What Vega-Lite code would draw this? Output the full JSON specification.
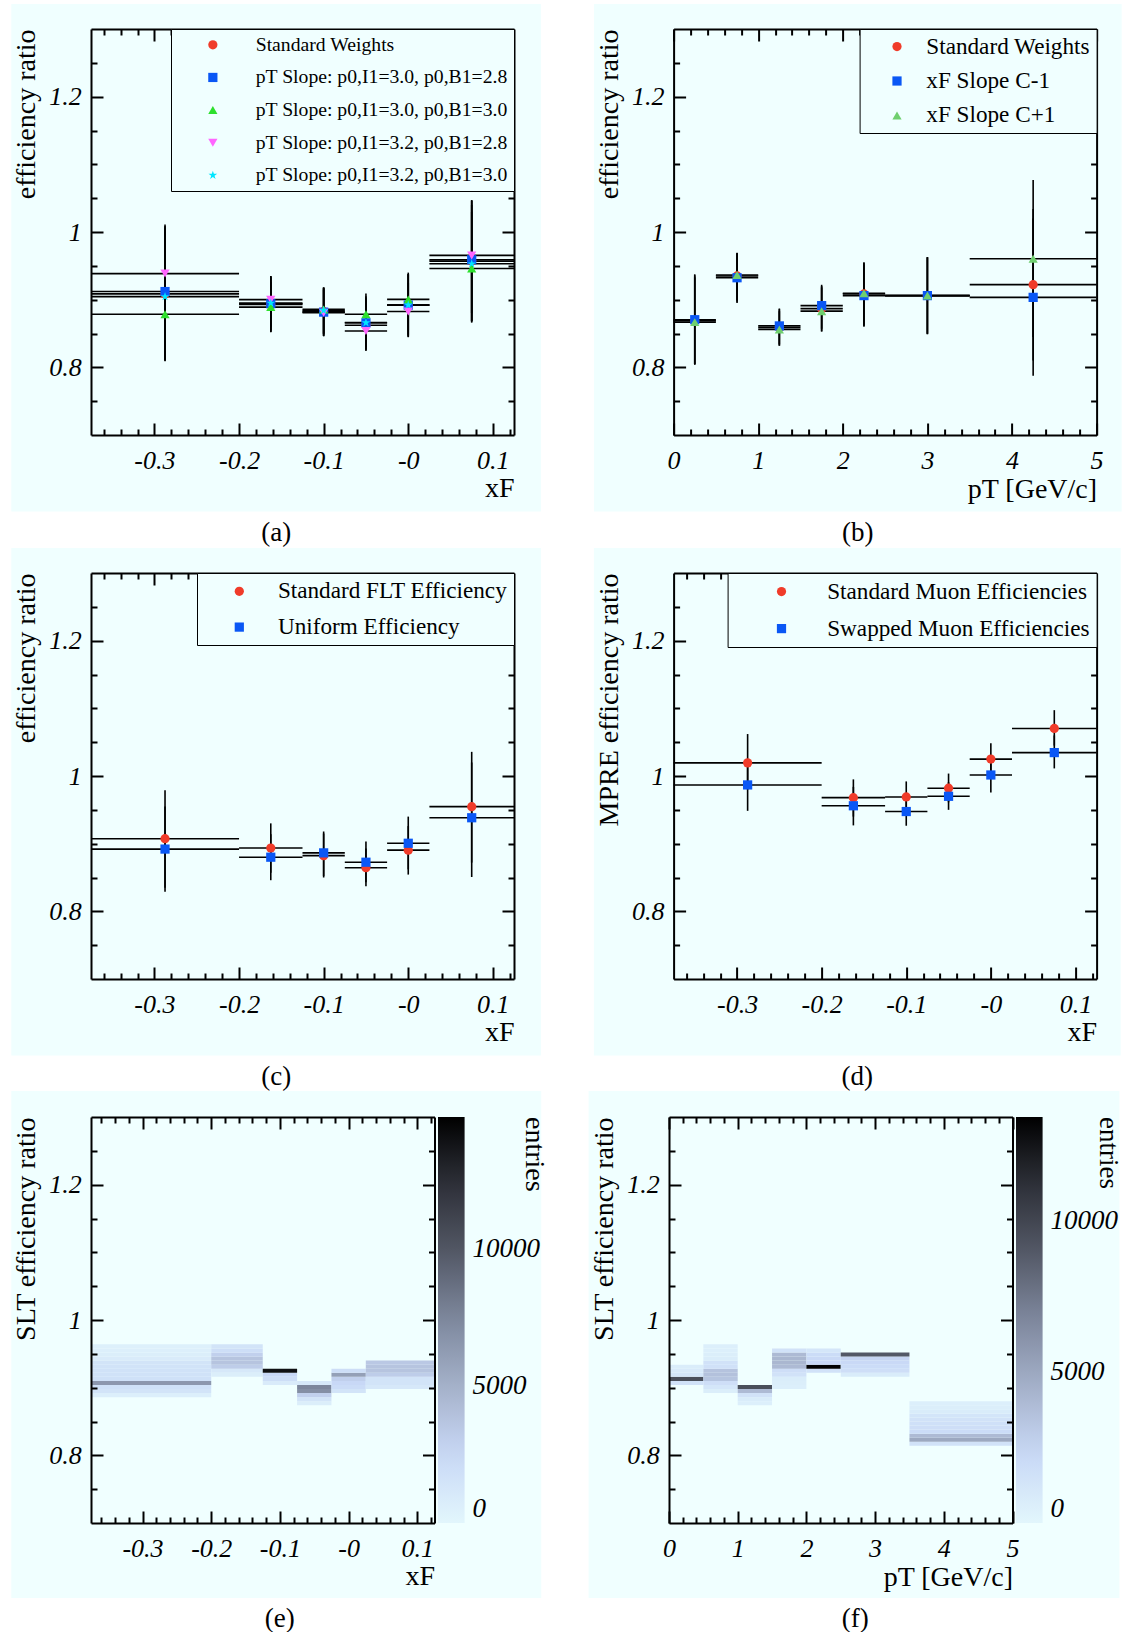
{
"$schema": "https://vega.github.io/schema/vega-lite/v6.json",
"background": "white",
"padding": {"left": 11, "top": 3, "right": 0, "bottom": 0},
"config": {
  "view": {"stroke": null},
  "font": "Liberation Serif",
  "axis": {"zindex": 1, "grid": false, "domainColor": "black", "domainWidth": 2, "tickColor": "black", "tickWidth": 2,
    "labelFont": "Liberation Serif", "labelFontStyle": "italic", "labelFontSize": 26, "labelColor": "black",
    "titleFont": "Liberation Serif", "titleFontWeight": "normal", "titleFontSize": 28, "titleColor": "black",
    "labelFlush": false, "labelOverlap": false},
  "legend": {"labelFont": "Liberation Serif", "labelColor": "black", "titleFont": "Liberation Serif", "titleColor": "black", "titleFontWeight": "normal"},
  "title": {"font": "Liberation Serif", "fontSize": 27, "fontWeight": "normal", "color": "black"}
},
"datasets": {
  "bg": [{}],
  "pa": [
    {"s": "Standard Weights", "x": -0.2875, "x0": -0.375, "x1": -0.2, "v": 0.9085, "lo": 0.809, "hi": 1.009},
    {"s": "pT Slope: p0,I1=3.0, p0,B1=2.8", "x": -0.2875, "x0": -0.375, "x1": -0.2, "v": 0.912, "lo": 0.812, "hi": 1.011},
    {"s": "pT Slope: p0,I1=3.0, p0,B1=3.0", "x": -0.2875, "x0": -0.375, "x1": -0.2, "v": 0.8785, "lo": 0.81, "hi": 0.947},
    {"s": "pT Slope: p0,I1=3.2, p0,B1=2.8", "x": -0.2875, "x0": -0.375, "x1": -0.2, "v": 0.9385, "lo": 0.87, "hi": 1.007},
    {"s": "pT Slope: p0,I1=3.2, p0,B1=3.0", "x": -0.2875, "x0": -0.375, "x1": -0.2, "v": 0.9045, "lo": 0.81, "hi": 1.0},
    {"s": "Standard Weights", "x": -0.1625, "x0": -0.2, "x1": -0.125, "v": 0.893, "lo": 0.852, "hi": 0.934},
    {"s": "pT Slope: p0,I1=3.0, p0,B1=2.8", "x": -0.1625, "x0": -0.2, "x1": -0.125, "v": 0.894, "lo": 0.853, "hi": 0.935},
    {"s": "pT Slope: p0,I1=3.0, p0,B1=3.0", "x": -0.1625, "x0": -0.2, "x1": -0.125, "v": 0.889, "lo": 0.852, "hi": 0.926},
    {"s": "pT Slope: p0,I1=3.2, p0,B1=2.8", "x": -0.1625, "x0": -0.2, "x1": -0.125, "v": 0.9, "lo": 0.86, "hi": 0.935},
    {"s": "pT Slope: p0,I1=3.2, p0,B1=3.0", "x": -0.1625, "x0": -0.2, "x1": -0.125, "v": 0.895, "lo": 0.855, "hi": 0.933},
    {"s": "Standard Weights", "x": -0.1, "x0": -0.125, "x1": -0.075, "v": 0.8826, "lo": 0.847, "hi": 0.918},
    {"s": "pT Slope: p0,I1=3.0, p0,B1=2.8", "x": -0.1, "x0": -0.125, "x1": -0.075, "v": 0.8816, "lo": 0.846, "hi": 0.917},
    {"s": "pT Slope: p0,I1=3.0, p0,B1=3.0", "x": -0.1, "x0": -0.125, "x1": -0.075, "v": 0.8856, "lo": 0.85, "hi": 0.918},
    {"s": "pT Slope: p0,I1=3.2, p0,B1=2.8", "x": -0.1, "x0": -0.125, "x1": -0.075, "v": 0.8806, "lo": 0.846, "hi": 0.915},
    {"s": "pT Slope: p0,I1=3.2, p0,B1=3.0", "x": -0.1, "x0": -0.125, "x1": -0.075, "v": 0.8841, "lo": 0.849, "hi": 0.918},
    {"s": "Standard Weights", "x": -0.05, "x0": -0.075, "x1": -0.025, "v": 0.8623, "lo": 0.826, "hi": 0.899},
    {"s": "pT Slope: p0,I1=3.0, p0,B1=2.8", "x": -0.05, "x0": -0.075, "x1": -0.025, "v": 0.8658, "lo": 0.826, "hi": 0.905},
    {"s": "pT Slope: p0,I1=3.0, p0,B1=3.0", "x": -0.05, "x0": -0.075, "x1": -0.025, "v": 0.8785, "lo": 0.84, "hi": 0.909},
    {"s": "pT Slope: p0,I1=3.2, p0,B1=2.8", "x": -0.05, "x0": -0.075, "x1": -0.025, "v": 0.8536, "lo": 0.824, "hi": 0.89},
    {"s": "pT Slope: p0,I1=3.2, p0,B1=3.0", "x": -0.05, "x0": -0.075, "x1": -0.025, "v": 0.866, "lo": 0.83, "hi": 0.903},
    {"s": "Standard Weights", "x": 0, "x0": -0.025, "x1": 0.025, "v": 0.8922, "lo": 0.846, "hi": 0.938},
    {"s": "pT Slope: p0,I1=3.0, p0,B1=2.8", "x": 0, "x0": -0.025, "x1": 0.025, "v": 0.892, "lo": 0.845, "hi": 0.938},
    {"s": "pT Slope: p0,I1=3.0, p0,B1=3.0", "x": 0, "x0": -0.025, "x1": 0.025, "v": 0.9004, "lo": 0.855, "hi": 0.94},
    {"s": "pT Slope: p0,I1=3.2, p0,B1=2.8", "x": 0, "x0": -0.025, "x1": 0.025, "v": 0.8826, "lo": 0.8445, "hi": 0.925},
    {"s": "pT Slope: p0,I1=3.2, p0,B1=3.0", "x": 0, "x0": -0.025, "x1": 0.025, "v": 0.8922, "lo": 0.848, "hi": 0.937},
    {"s": "Standard Weights", "x": 0.075, "x0": 0.025, "x1": 0.125, "v": 0.957, "lo": 0.868, "hi": 1.046},
    {"s": "pT Slope: p0,I1=3.0, p0,B1=2.8", "x": 0.075, "x0": 0.025, "x1": 0.125, "v": 0.959, "lo": 0.868, "hi": 1.047},
    {"s": "pT Slope: p0,I1=3.0, p0,B1=3.0", "x": 0.075, "x0": 0.025, "x1": 0.125, "v": 0.946, "lo": 0.866, "hi": 1.03},
    {"s": "pT Slope: p0,I1=3.2, p0,B1=2.8", "x": 0.075, "x0": 0.025, "x1": 0.125, "v": 0.9654, "lo": 0.88, "hi": 1.047},
    {"s": "pT Slope: p0,I1=3.2, p0,B1=3.0", "x": 0.075, "x0": 0.025, "x1": 0.125, "v": 0.953, "lo": 0.868, "hi": 1.04}
  ],
  "pb": [
    {"s": "Standard Weights", "x": 0.25, "x0": 0, "x1": 0.5, "v": 0.869, "lo": 0.804, "hi": 0.936},
    {"s": "xF Slope C-1", "x": 0.25, "x0": 0, "x1": 0.5, "v": 0.8704, "lo": 0.805, "hi": 0.9375},
    {"s": "xF Slope C+1", "x": 0.25, "x0": 0, "x1": 0.5, "v": 0.8668, "lo": 0.804, "hi": 0.933},
    {"s": "Standard Weights", "x": 0.75, "x0": 0.5, "x1": 1, "v": 0.935, "lo": 0.897, "hi": 0.969},
    {"s": "xF Slope C-1", "x": 0.75, "x0": 0.5, "x1": 1, "v": 0.9324, "lo": 0.895, "hi": 0.968},
    {"s": "xF Slope C+1", "x": 0.75, "x0": 0.5, "x1": 1, "v": 0.9365, "lo": 0.899, "hi": 0.9695},
    {"s": "Standard Weights", "x": 1.25, "x0": 1, "x1": 1.5, "v": 0.8587, "lo": 0.832, "hi": 0.886},
    {"s": "xF Slope C-1", "x": 1.25, "x0": 1, "x1": 1.5, "v": 0.8612, "lo": 0.834, "hi": 0.887},
    {"s": "xF Slope C+1", "x": 1.25, "x0": 1, "x1": 1.5, "v": 0.856, "lo": 0.832, "hi": 0.883},
    {"s": "Standard Weights", "x": 1.75, "x0": 1.5, "x1": 2, "v": 0.8867, "lo": 0.853, "hi": 0.92},
    {"s": "xF Slope C-1", "x": 1.75, "x0": 1.5, "x1": 2, "v": 0.8912, "lo": 0.857, "hi": 0.922},
    {"s": "xF Slope C+1", "x": 1.75, "x0": 1.5, "x1": 2, "v": 0.883, "lo": 0.853, "hi": 0.918},
    {"s": "Standard Weights", "x": 2.25, "x0": 2, "x1": 2.5, "v": 0.9085, "lo": 0.861, "hi": 0.955},
    {"s": "xF Slope C-1", "x": 2.25, "x0": 2, "x1": 2.5, "v": 0.906, "lo": 0.86, "hi": 0.952},
    {"s": "xF Slope C+1", "x": 2.25, "x0": 2, "x1": 2.5, "v": 0.9095, "lo": 0.863, "hi": 0.955},
    {"s": "Standard Weights", "x": 3, "x0": 2.5, "x1": 3.5, "v": 0.906, "lo": 0.849, "hi": 0.963},
    {"s": "xF Slope C-1", "x": 3, "x0": 2.5, "x1": 3.5, "v": 0.906, "lo": 0.849, "hi": 0.963},
    {"s": "xF Slope C+1", "x": 3, "x0": 2.5, "x1": 3.5, "v": 0.906, "lo": 0.85, "hi": 0.962},
    {"s": "Standard Weights", "x": 4.25, "x0": 3.5, "x1": 5, "v": 0.9222, "lo": 0.81, "hi": 1.034},
    {"s": "xF Slope C-1", "x": 4.25, "x0": 3.5, "x1": 5, "v": 0.9034, "lo": 0.7875, "hi": 1.02},
    {"s": "xF Slope C+1", "x": 4.25, "x0": 3.5, "x1": 5, "v": 0.9604, "lo": 0.845, "hi": 1.077}
  ],
  "pc": [
    {"s": "Standard FLT Efficiency", "x": -0.2875, "x0": -0.375, "x1": -0.2, "v": 0.9073, "lo": 0.835, "hi": 0.979},
    {"s": "Uniform Efficiency", "x": -0.2875, "x0": -0.375, "x1": -0.2, "v": 0.892, "lo": 0.829, "hi": 0.955},
    {"s": "Standard FLT Efficiency", "x": -0.1625, "x0": -0.2, "x1": -0.125, "v": 0.8935, "lo": 0.857, "hi": 0.93},
    {"s": "Uniform Efficiency", "x": -0.1625, "x0": -0.2, "x1": -0.125, "v": 0.88, "lo": 0.846, "hi": 0.914},
    {"s": "Standard FLT Efficiency", "x": -0.1, "x0": -0.125, "x1": -0.075, "v": 0.8823, "lo": 0.85, "hi": 0.915},
    {"s": "Uniform Efficiency", "x": -0.1, "x0": -0.125, "x1": -0.075, "v": 0.8864, "lo": 0.852, "hi": 0.918},
    {"s": "Standard FLT Efficiency", "x": -0.05, "x0": -0.075, "x1": -0.025, "v": 0.8645, "lo": 0.837, "hi": 0.893},
    {"s": "Uniform Efficiency", "x": -0.05, "x0": -0.075, "x1": -0.025, "v": 0.8726, "lo": 0.843, "hi": 0.9032},
    {"s": "Standard FLT Efficiency", "x": 0, "x0": -0.025, "x1": 0.025, "v": 0.8904, "lo": 0.8543, "hi": 0.926},
    {"s": "Uniform Efficiency", "x": 0, "x0": -0.025, "x1": 0.025, "v": 0.9006, "lo": 0.862, "hi": 0.94},
    {"s": "Standard FLT Efficiency", "x": 0.075, "x0": 0.025, "x1": 0.125, "v": 0.9547, "lo": 0.872, "hi": 1.0357},
    {"s": "Uniform Efficiency", "x": 0.075, "x0": 0.025, "x1": 0.125, "v": 0.9383, "lo": 0.8507, "hi": 1.02}
  ],
  "pd": [
    {"s": "Standard Muon Efficiencies", "x": -0.2875, "x0": -0.375, "x1": -0.2, "v": 1.0194, "lo": 0.98, "hi": 1.062},
    {"s": "Swapped Muon Efficiencies", "x": -0.2875, "x0": -0.375, "x1": -0.2, "v": 0.9868, "lo": 0.9485, "hi": 1.025},
    {"s": "Standard Muon Efficiencies", "x": -0.1625, "x0": -0.2, "x1": -0.125, "v": 0.968, "lo": 0.94, "hi": 0.995},
    {"s": "Swapped Muon Efficiencies", "x": -0.1625, "x0": -0.2, "x1": -0.125, "v": 0.956, "lo": 0.927, "hi": 0.984},
    {"s": "Standard Muon Efficiencies", "x": -0.1, "x0": -0.125, "x1": -0.075, "v": 0.969, "lo": 0.946, "hi": 0.992},
    {"s": "Swapped Muon Efficiencies", "x": -0.1, "x0": -0.125, "x1": -0.075, "v": 0.9475, "lo": 0.9265, "hi": 0.969},
    {"s": "Standard Muon Efficiencies", "x": -0.05, "x0": -0.075, "x1": -0.025, "v": 0.982, "lo": 0.961, "hi": 1.0036},
    {"s": "Swapped Muon Efficiencies", "x": -0.05, "x0": -0.075, "x1": -0.025, "v": 0.97, "lo": 0.95, "hi": 0.991},
    {"s": "Standard Muon Efficiencies", "x": 0, "x0": -0.025, "x1": 0.025, "v": 1.025, "lo": 1.001, "hi": 1.0484},
    {"s": "Swapped Muon Efficiencies", "x": 0, "x0": -0.025, "x1": 0.025, "v": 1.0015, "lo": 0.9755, "hi": 1.025},
    {"s": "Standard Muon Efficiencies", "x": 0.075, "x0": 0.025, "x1": 0.125, "v": 1.0703, "lo": 1.045, "hi": 1.0973},
    {"s": "Swapped Muon Efficiencies", "x": 0.075, "x0": 0.025, "x1": 0.125, "v": 1.0346, "lo": 1.0112, "hi": 1.06}
  ],
  "he": [
    {"x0": -0.375, "x1": -0.2, "y0": 0.886, "y1": 0.892, "n": 600},
    {"x0": -0.375, "x1": -0.2, "y0": 0.892, "y1": 0.898, "n": 1500},
    {"x0": -0.375, "x1": -0.2, "y0": 0.898, "y1": 0.904, "n": 1800},
    {"x0": -0.375, "x1": -0.2, "y0": 0.904, "y1": 0.910, "n": 6500},
    {"x0": -0.375, "x1": -0.2, "y0": 0.910, "y1": 0.916, "n": 1800},
    {"x0": -0.375, "x1": -0.2, "y0": 0.916, "y1": 0.922, "n": 1700},
    {"x0": -0.375, "x1": -0.2, "y0": 0.922, "y1": 0.928, "n": 1700},
    {"x0": -0.375, "x1": -0.2, "y0": 0.928, "y1": 0.934, "n": 1600},
    {"x0": -0.375, "x1": -0.2, "y0": 0.934, "y1": 0.940, "n": 1500},
    {"x0": -0.375, "x1": -0.2, "y0": 0.940, "y1": 0.946, "n": 900},
    {"x0": -0.375, "x1": -0.2, "y0": 0.946, "y1": 0.952, "n": 700},
    {"x0": -0.375, "x1": -0.2, "y0": 0.952, "y1": 0.958, "n": 600},
    {"x0": -0.375, "x1": -0.2, "y0": 0.958, "y1": 0.964, "n": 500},
    {"x0": -0.2, "x1": -0.125, "y0": 0.916, "y1": 0.922, "n": 700},
    {"x0": -0.2, "x1": -0.125, "y0": 0.922, "y1": 0.928, "n": 1200},
    {"x0": -0.2, "x1": -0.125, "y0": 0.928, "y1": 0.934, "n": 3200},
    {"x0": -0.2, "x1": -0.125, "y0": 0.934, "y1": 0.940, "n": 3800},
    {"x0": -0.2, "x1": -0.125, "y0": 0.940, "y1": 0.946, "n": 3800},
    {"x0": -0.2, "x1": -0.125, "y0": 0.946, "y1": 0.952, "n": 3000},
    {"x0": -0.2, "x1": -0.125, "y0": 0.952, "y1": 0.958, "n": 2000},
    {"x0": -0.2, "x1": -0.125, "y0": 0.958, "y1": 0.964, "n": 1500},
    {"x0": -0.125, "x1": -0.075, "y0": 0.904, "y1": 0.910, "n": 900},
    {"x0": -0.125, "x1": -0.075, "y0": 0.910, "y1": 0.916, "n": 2000},
    {"x0": -0.125, "x1": -0.075, "y0": 0.916, "y1": 0.922, "n": 2500},
    {"x0": -0.125, "x1": -0.075, "y0": 0.922, "y1": 0.928, "n": 14000},
    {"x0": -0.075, "x1": -0.025, "y0": 0.874, "y1": 0.880, "n": 700},
    {"x0": -0.075, "x1": -0.025, "y0": 0.880, "y1": 0.886, "n": 1500},
    {"x0": -0.075, "x1": -0.025, "y0": 0.886, "y1": 0.892, "n": 3000},
    {"x0": -0.075, "x1": -0.025, "y0": 0.892, "y1": 0.898, "n": 7000},
    {"x0": -0.075, "x1": -0.025, "y0": 0.898, "y1": 0.904, "n": 7500},
    {"x0": -0.075, "x1": -0.025, "y0": 0.904, "y1": 0.910, "n": 1200},
    {"x0": -0.025, "x1": 0.025, "y0": 0.892, "y1": 0.898, "n": 1500},
    {"x0": -0.025, "x1": 0.025, "y0": 0.898, "y1": 0.904, "n": 2200},
    {"x0": -0.025, "x1": 0.025, "y0": 0.904, "y1": 0.910, "n": 2500},
    {"x0": -0.025, "x1": 0.025, "y0": 0.910, "y1": 0.916, "n": 3000},
    {"x0": -0.025, "x1": 0.025, "y0": 0.916, "y1": 0.922, "n": 6000},
    {"x0": -0.025, "x1": 0.025, "y0": 0.922, "y1": 0.928, "n": 2000},
    {"x0": 0.025, "x1": 0.125, "y0": 0.898, "y1": 0.904, "n": 1200},
    {"x0": 0.025, "x1": 0.125, "y0": 0.904, "y1": 0.910, "n": 1500},
    {"x0": 0.025, "x1": 0.125, "y0": 0.910, "y1": 0.916, "n": 1500},
    {"x0": 0.025, "x1": 0.125, "y0": 0.916, "y1": 0.922, "n": 3200},
    {"x0": 0.025, "x1": 0.125, "y0": 0.922, "y1": 0.928, "n": 3800},
    {"x0": 0.025, "x1": 0.125, "y0": 0.928, "y1": 0.934, "n": 3800},
    {"x0": 0.025, "x1": 0.125, "y0": 0.934, "y1": 0.940, "n": 3500}
  ],
  "hf": [
    {"x0": 0, "x1": 0.5, "y0": 0.904, "y1": 0.910, "n": 1500},
    {"x0": 0, "x1": 0.5, "y0": 0.910, "y1": 0.916, "n": 9500},
    {"x0": 0, "x1": 0.5, "y0": 0.916, "y1": 0.922, "n": 1200},
    {"x0": 0, "x1": 0.5, "y0": 0.922, "y1": 0.928, "n": 900},
    {"x0": 0, "x1": 0.5, "y0": 0.928, "y1": 0.934, "n": 700},
    {"x0": 0.5, "x1": 1, "y0": 0.892, "y1": 0.898, "n": 600},
    {"x0": 0.5, "x1": 1, "y0": 0.898, "y1": 0.904, "n": 1200},
    {"x0": 0.5, "x1": 1, "y0": 0.904, "y1": 0.910, "n": 1800},
    {"x0": 0.5, "x1": 1, "y0": 0.910, "y1": 0.916, "n": 3400},
    {"x0": 0.5, "x1": 1, "y0": 0.916, "y1": 0.922, "n": 3600},
    {"x0": 0.5, "x1": 1, "y0": 0.922, "y1": 0.928, "n": 3500},
    {"x0": 0.5, "x1": 1, "y0": 0.928, "y1": 0.934, "n": 1600},
    {"x0": 0.5, "x1": 1, "y0": 0.934, "y1": 0.940, "n": 1500},
    {"x0": 0.5, "x1": 1, "y0": 0.940, "y1": 0.946, "n": 700},
    {"x0": 0.5, "x1": 1, "y0": 0.946, "y1": 0.952, "n": 600},
    {"x0": 0.5, "x1": 1, "y0": 0.952, "y1": 0.958, "n": 500},
    {"x0": 0.5, "x1": 1, "y0": 0.958, "y1": 0.964, "n": 500},
    {"x0": 1, "x1": 1.5, "y0": 0.874, "y1": 0.880, "n": 500},
    {"x0": 1, "x1": 1.5, "y0": 0.880, "y1": 0.886, "n": 800},
    {"x0": 1, "x1": 1.5, "y0": 0.886, "y1": 0.892, "n": 1500},
    {"x0": 1, "x1": 1.5, "y0": 0.892, "y1": 0.898, "n": 4000},
    {"x0": 1, "x1": 1.5, "y0": 0.898, "y1": 0.904, "n": 9500},
    {"x0": 1.5, "x1": 2, "y0": 0.898, "y1": 0.904, "n": 500},
    {"x0": 1.5, "x1": 2, "y0": 0.904, "y1": 0.910, "n": 600},
    {"x0": 1.5, "x1": 2, "y0": 0.910, "y1": 0.916, "n": 700},
    {"x0": 1.5, "x1": 2, "y0": 0.916, "y1": 0.922, "n": 1500},
    {"x0": 1.5, "x1": 2, "y0": 0.922, "y1": 0.928, "n": 1800},
    {"x0": 1.5, "x1": 2, "y0": 0.928, "y1": 0.934, "n": 4000},
    {"x0": 1.5, "x1": 2, "y0": 0.934, "y1": 0.940, "n": 4200},
    {"x0": 1.5, "x1": 2, "y0": 0.940, "y1": 0.946, "n": 4200},
    {"x0": 1.5, "x1": 2, "y0": 0.946, "y1": 0.952, "n": 4000},
    {"x0": 1.5, "x1": 2, "y0": 0.952, "y1": 0.958, "n": 1500},
    {"x0": 2, "x1": 2.5, "y0": 0.922, "y1": 0.928, "n": 1500},
    {"x0": 2, "x1": 2.5, "y0": 0.928, "y1": 0.934, "n": 13400},
    {"x0": 2, "x1": 2.5, "y0": 0.934, "y1": 0.940, "n": 2200},
    {"x0": 2, "x1": 2.5, "y0": 0.940, "y1": 0.946, "n": 2200},
    {"x0": 2, "x1": 2.5, "y0": 0.946, "y1": 0.952, "n": 2000},
    {"x0": 2, "x1": 2.5, "y0": 0.952, "y1": 0.958, "n": 1200},
    {"x0": 2.5, "x1": 3.5, "y0": 0.916, "y1": 0.922, "n": 800},
    {"x0": 2.5, "x1": 3.5, "y0": 0.922, "y1": 0.928, "n": 1800},
    {"x0": 2.5, "x1": 3.5, "y0": 0.928, "y1": 0.934, "n": 2000},
    {"x0": 2.5, "x1": 3.5, "y0": 0.934, "y1": 0.940, "n": 2200},
    {"x0": 2.5, "x1": 3.5, "y0": 0.940, "y1": 0.946, "n": 2500},
    {"x0": 2.5, "x1": 3.5, "y0": 0.946, "y1": 0.952, "n": 9000},
    {"x0": 3.5, "x1": 5, "y0": 0.814, "y1": 0.820, "n": 1500},
    {"x0": 3.5, "x1": 5, "y0": 0.820, "y1": 0.826, "n": 5000},
    {"x0": 3.5, "x1": 5, "y0": 0.826, "y1": 0.832, "n": 4000},
    {"x0": 3.5, "x1": 5, "y0": 0.832, "y1": 0.838, "n": 2000},
    {"x0": 3.5, "x1": 5, "y0": 0.838, "y1": 0.844, "n": 1800},
    {"x0": 3.5, "x1": 5, "y0": 0.844, "y1": 0.850, "n": 1700},
    {"x0": 3.5, "x1": 5, "y0": 0.850, "y1": 0.856, "n": 1500},
    {"x0": 3.5, "x1": 5, "y0": 0.856, "y1": 0.862, "n": 1300},
    {"x0": 3.5, "x1": 5, "y0": 0.862, "y1": 0.868, "n": 800},
    {"x0": 3.5, "x1": 5, "y0": 0.868, "y1": 0.874, "n": 600},
    {"x0": 3.5, "x1": 5, "y0": 0.874, "y1": 0.880, "n": 500}
  ]
},
"spacing": 1,
"resolve": {"scale": {"color": "independent", "shape": "independent"}, "legend": {"color": "independent", "shape": "independent"}},
"vconcat": [
 {
  "spacing": 52.6,
  "resolve": {"scale": {"color": "independent", "shape": "independent"}, "legend": {"color": "independent", "shape": "independent"}},
  "hconcat": [
   {
    "width": 423, "height": 406,
    "title": {"text": "(a)", "orient": "bottom", "offset": 8, "anchor": "middle", "frame": "bounds"},
    "resolve": {"axis": {"x": "independent", "y": "independent"}},
    "layer": [
     {"data": {"name": "bg"}, "mark": {"type": "rect", "color": "#f0ffff"},
      "encoding": {
       "x": {"datum": -0.4692, "type": "quantitative", "scale": {"domain": [-0.375, 0.125], "nice": false, "zero": false}, "axis": null},
       "x2": {"datum": 0.1569},
       "y": {"datum": 0.5868, "type": "quantitative", "scale": {"domain": [0.7, 1.3], "nice": false, "zero": false}, "axis": null},
       "y2": {"datum": 1.337}}},
     {"data": {"name": "pa"}, "mark": {"type": "rule", "color": "black", "strokeWidth": 1.6},
      "encoding": {
       "x": {"field": "x0", "type": "quantitative", "scale": {"domain": [-0.375, 0.125], "nice": false, "zero": false},
        "axis": {"zindex": 1, "orient": "bottom", "values": [-0.36,-0.34,-0.32,-0.3,-0.28,-0.26,-0.24,-0.22,-0.2,-0.18,-0.16,-0.14,-0.12,-0.1,-0.08,-0.06,-0.04,-0.02,0,0.02,0.04,0.06,0.08,0.1,0.12],
         "tickSize": {"condition": {"test": "abs(datum.value*10-round(datum.value*10))<0.000001", "value": -12}, "value": -6},
         "labelExpr": "abs(datum.value*10-round(datum.value*10))<0.000001 ? (abs(datum.value)<0.01 ? '-0' : (datum.value<0 ? '-'+format(-datum.value,'.1f') : format(datum.value,'.1f'))) : ''",
         "labelPadding": 24, "title": "xF", "titleAnchor": "end", "titlePadding": -5}},
       "x2": {"field": "x1"},
       "y": {"field": "v", "type": "quantitative", "scale": {"domain": [0.7, 1.3], "nice": false, "zero": false},
        "axis": {"zindex": 1, "orient": "left", "values": [0.75,0.8,0.85,0.9,0.95,1,1.05,1.1,1.15,1.2,1.25],
         "tickSize": {"condition": {"test": "abs(datum.value*5-round(datum.value*5))<0.000001", "value": -12}, "value": -6},
         "labelExpr": "abs(datum.value*5-round(datum.value*5))<0.000001 ? format(datum.value,'~g') : ''",
         "labelPadding": 21.7, "title": "efficiency ratio", "titleAnchor": "end", "titlePadding": 8.3}}}},
     {"data": {"name": "pa"}, "mark": {"type": "rule", "color": "black", "strokeWidth": 1.6},
      "encoding": {
       "x": {"field": "x", "type": "quantitative", "scale": {"domain": [-0.375, 0.125], "nice": false, "zero": false},
        "axis": {"zindex": 1, "orient": "top", "values": [-0.36,-0.34,-0.32,-0.3,-0.28,-0.26,-0.24,-0.22,-0.2,-0.18,-0.16,-0.14,-0.12,-0.1,-0.08,-0.06,-0.04,-0.02,0,0.02,0.04,0.06,0.08,0.1,0.12],
         "tickSize": {"condition": {"test": "abs(datum.value*10-round(datum.value*10))<0.000001", "value": -12}, "value": -6},
         "labels": false, "title": null}},
       "y": {"field": "lo", "type": "quantitative", "scale": {"domain": [0.7, 1.3], "nice": false, "zero": false},
        "axis": {"zindex": 1, "orient": "right", "values": [0.75,0.8,0.85,0.9,0.95,1,1.05,1.1,1.15,1.2,1.25],
         "tickSize": {"condition": {"test": "abs(datum.value*5-round(datum.value*5))<0.000001", "value": -12}, "value": -6},
         "labels": false, "title": null}},
       "y2": {"field": "hi"}}},
     {"data": {"name": "pa"}, "mark": {"type": "point", "filled": true, "size": 85, "opacity": 1},
      "encoding": {
       "x": {"field": "x", "type": "quantitative", "scale": {"domain": [-0.375, 0.125], "nice": false, "zero": false}, "axis": null},
       "y": {"field": "v", "type": "quantitative", "scale": {"domain": [0.7, 1.3], "nice": false, "zero": false}, "axis": null},
       "color": {"field": "s", "type": "nominal",
        "scale": {"domain": ["Standard Weights", "pT Slope: p0,I1=3.0, p0,B1=2.8", "pT Slope: p0,I1=3.0, p0,B1=3.0", "pT Slope: p0,I1=3.2, p0,B1=2.8", "pT Slope: p0,I1=3.2, p0,B1=3.0"],
         "range": ["#f03c2a", "#0a57f5", "#2ee02e", "#ff66ff", "#00e6ff"]},
        "legend": {"zindex": 2, "orient": "top-right", "offset": 0, "title": null, "padding": 6, "symbolOffset": 26, "labelOffset": 33, "rowPadding": 11.6, "symbolSize": 85, "labelFontSize": 19.7, "labelLimit": 500, "strokeColor": "black", "fillColor": "#f0ffff"}},
       "shape": {"field": "s", "type": "nominal",
        "scale": {"domain": ["Standard Weights", "pT Slope: p0,I1=3.0, p0,B1=2.8", "pT Slope: p0,I1=3.0, p0,B1=3.0", "pT Slope: p0,I1=3.2, p0,B1=2.8", "pT Slope: p0,I1=3.2, p0,B1=3.0"],
         "range": ["circle", "square", "triangle-up", "triangle-down", "M0,-1L0.2245,-0.309L0.9511,-0.309L0.3633,0.118L0.5878,0.809L0,0.382L-0.5878,0.809L-0.3633,0.118L-0.9511,-0.309L-0.2245,-0.309Z"]},
        "legend": {"zindex": 2, "orient": "top-right", "offset": 0, "title": null, "padding": 6, "symbolOffset": 26, "labelOffset": 33, "rowPadding": 11.6, "symbolSize": 85, "labelFontSize": 19.7, "labelLimit": 500, "strokeColor": "black", "fillColor": "#f0ffff"}}}}
    ]
   },
   {
    "width": 423, "height": 406,
    "title": {"text": "(b)", "orient": "bottom", "offset": 8, "anchor": "middle", "frame": "bounds"},
    "resolve": {"axis": {"x": "independent", "y": "independent"}},
    "layer": [
     {"data": {"name": "bg"}, "mark": {"type": "rect", "color": "#f0ffff"},
      "encoding": {
       "x": {"datum": -0.941, "type": "quantitative", "scale": {"domain": [0, 5], "nice": false, "zero": false}, "axis": null},
       "x2": {"datum": 5.296},
       "y": {"datum": 0.5868, "type": "quantitative", "scale": {"domain": [0.7, 1.3], "nice": false, "zero": false}, "axis": null},
       "y2": {"datum": 1.337}}},
     {"data": {"name": "pb"}, "mark": {"type": "rule", "color": "black", "strokeWidth": 1.6},
      "encoding": {
       "x": {"field": "x0", "type": "quantitative", "scale": {"domain": [0, 5], "nice": false, "zero": false},
        "axis": {"zindex": 1, "orient": "bottom", "values": [0,0.2,0.4,0.6,0.8,1,1.2,1.4,1.6,1.8,2,2.2,2.4,2.6,2.8,3,3.2,3.4,3.6,3.8,4,4.2,4.4,4.6,4.8,5],
         "tickSize": {"condition": {"test": "abs(datum.value-round(datum.value))<0.000001", "value": -12}, "value": -6},
         "labelExpr": "abs(datum.value-round(datum.value))<0.000001 ? format(datum.value,'d') : ''",
         "labelPadding": 24, "title": "pT [GeV/c]", "titleAnchor": "end", "titlePadding": -4}},
       "x2": {"field": "x1"},
       "y": {"field": "v", "type": "quantitative", "scale": {"domain": [0.7, 1.3], "nice": false, "zero": false},
        "axis": {"zindex": 1, "orient": "left", "values": [0.75,0.8,0.85,0.9,0.95,1,1.05,1.1,1.15,1.2,1.25],
         "tickSize": {"condition": {"test": "abs(datum.value*5-round(datum.value*5))<0.000001", "value": -12}, "value": -6},
         "labelExpr": "abs(datum.value*5-round(datum.value*5))<0.000001 ? format(datum.value,'~g') : ''",
         "labelPadding": 21.7, "title": "efficiency ratio", "titleAnchor": "end", "titlePadding": 8.3}}}},
     {"data": {"name": "pb"}, "mark": {"type": "rule", "color": "black", "strokeWidth": 1.6},
      "encoding": {
       "x": {"field": "x", "type": "quantitative", "scale": {"domain": [0, 5], "nice": false, "zero": false},
        "axis": {"zindex": 1, "orient": "top", "values": [0,0.2,0.4,0.6,0.8,1,1.2,1.4,1.6,1.8,2,2.2,2.4,2.6,2.8,3,3.2,3.4,3.6,3.8,4,4.2,4.4,4.6,4.8,5],
         "tickSize": {"condition": {"test": "abs(datum.value-round(datum.value))<0.000001", "value": -12}, "value": -6},
         "labels": false, "title": null}},
       "y": {"field": "lo", "type": "quantitative", "scale": {"domain": [0.7, 1.3], "nice": false, "zero": false},
        "axis": {"zindex": 1, "orient": "right", "values": [0.75,0.8,0.85,0.9,0.95,1,1.05,1.1,1.15,1.2,1.25],
         "tickSize": {"condition": {"test": "abs(datum.value*5-round(datum.value*5))<0.000001", "value": -12}, "value": -6},
         "labels": false, "title": null}},
       "y2": {"field": "hi"}}},
     {"data": {"name": "pb"}, "mark": {"type": "point", "filled": true, "size": 85, "opacity": 1},
      "encoding": {
       "x": {"field": "x", "type": "quantitative", "scale": {"domain": [0, 5], "nice": false, "zero": false}, "axis": null},
       "y": {"field": "v", "type": "quantitative", "scale": {"domain": [0.7, 1.3], "nice": false, "zero": false}, "axis": null},
       "color": {"field": "s", "type": "nominal",
        "scale": {"domain": ["Standard Weights", "xF Slope C-1", "xF Slope C+1"], "range": ["#f03c2a", "#0a57f5", "#6fcf6f"]},
        "legend": {"zindex": 2, "orient": "top-right", "offset": 0, "title": null, "padding": 6, "symbolOffset": 19.8, "labelOffset": 17.7, "rowPadding": 10.4, "symbolSize": 85, "labelFontSize": 23.2, "labelLimit": 500, "strokeColor": "black", "fillColor": "#f0ffff"}},
       "shape": {"field": "s", "type": "nominal",
        "scale": {"domain": ["Standard Weights", "xF Slope C-1", "xF Slope C+1"], "range": ["circle", "square", "triangle-up"]},
        "legend": {"zindex": 2, "orient": "top-right", "offset": 0, "title": null, "padding": 6, "symbolOffset": 19.8, "labelOffset": 17.7, "rowPadding": 10.4, "symbolSize": 85, "labelFontSize": 23.2, "labelLimit": 500, "strokeColor": "black", "fillColor": "#f0ffff"}}}}
    ]
   }
  ]
 },
 {
  "spacing": 52.6,
  "resolve": {"scale": {"color": "independent", "shape": "independent"}, "legend": {"color": "independent", "shape": "independent"}},
  "hconcat": [
   {
    "width": 423, "height": 406,
    "title": {"text": "(c)", "orient": "bottom", "offset": 8, "anchor": "middle", "frame": "bounds"},
    "resolve": {"axis": {"x": "independent", "y": "independent"}},
    "layer": [
     {"data": {"name": "bg"}, "mark": {"type": "rect", "color": "#f0ffff"},
      "encoding": {
       "x": {"datum": -0.4692, "type": "quantitative", "scale": {"domain": [-0.375, 0.125], "nice": false, "zero": false}, "axis": null},
       "x2": {"datum": 0.1569},
       "y": {"datum": 0.5868, "type": "quantitative", "scale": {"domain": [0.7, 1.3], "nice": false, "zero": false}, "axis": null},
       "y2": {"datum": 1.337}}},
     {"data": {"name": "pc"}, "mark": {"type": "rule", "color": "black", "strokeWidth": 1.6},
      "encoding": {
       "x": {"field": "x0", "type": "quantitative", "scale": {"domain": [-0.375, 0.125], "nice": false, "zero": false},
        "axis": {"zindex": 1, "orient": "bottom", "values": [-0.36,-0.34,-0.32,-0.3,-0.28,-0.26,-0.24,-0.22,-0.2,-0.18,-0.16,-0.14,-0.12,-0.1,-0.08,-0.06,-0.04,-0.02,0,0.02,0.04,0.06,0.08,0.1,0.12],
         "tickSize": {"condition": {"test": "abs(datum.value*10-round(datum.value*10))<0.000001", "value": -12}, "value": -6},
         "labelExpr": "abs(datum.value*10-round(datum.value*10))<0.000001 ? (abs(datum.value)<0.01 ? '-0' : (datum.value<0 ? '-'+format(-datum.value,'.1f') : format(datum.value,'.1f'))) : ''",
         "labelPadding": 24, "title": "xF", "titleAnchor": "end", "titlePadding": -5}},
       "x2": {"field": "x1"},
       "y": {"field": "v", "type": "quantitative", "scale": {"domain": [0.7, 1.3], "nice": false, "zero": false},
        "axis": {"zindex": 1, "orient": "left", "values": [0.75,0.8,0.85,0.9,0.95,1,1.05,1.1,1.15,1.2,1.25],
         "tickSize": {"condition": {"test": "abs(datum.value*5-round(datum.value*5))<0.000001", "value": -12}, "value": -6},
         "labelExpr": "abs(datum.value*5-round(datum.value*5))<0.000001 ? format(datum.value,'~g') : ''",
         "labelPadding": 21.7, "title": "efficiency ratio", "titleAnchor": "end", "titlePadding": 8.3}}}},
     {"data": {"name": "pc"}, "mark": {"type": "rule", "color": "black", "strokeWidth": 1.6},
      "encoding": {
       "x": {"field": "x", "type": "quantitative", "scale": {"domain": [-0.375, 0.125], "nice": false, "zero": false},
        "axis": {"zindex": 1, "orient": "top", "values": [-0.36,-0.34,-0.32,-0.3,-0.28,-0.26,-0.24,-0.22,-0.2,-0.18,-0.16,-0.14,-0.12,-0.1,-0.08,-0.06,-0.04,-0.02,0,0.02,0.04,0.06,0.08,0.1,0.12],
         "tickSize": {"condition": {"test": "abs(datum.value*10-round(datum.value*10))<0.000001", "value": -12}, "value": -6},
         "labels": false, "title": null}},
       "y": {"field": "lo", "type": "quantitative", "scale": {"domain": [0.7, 1.3], "nice": false, "zero": false},
        "axis": {"zindex": 1, "orient": "right", "values": [0.75,0.8,0.85,0.9,0.95,1,1.05,1.1,1.15,1.2,1.25],
         "tickSize": {"condition": {"test": "abs(datum.value*5-round(datum.value*5))<0.000001", "value": -12}, "value": -6},
         "labels": false, "title": null}},
       "y2": {"field": "hi"}}},
     {"data": {"name": "pc"}, "mark": {"type": "point", "filled": true, "size": 85, "opacity": 1},
      "encoding": {
       "x": {"field": "x", "type": "quantitative", "scale": {"domain": [-0.375, 0.125], "nice": false, "zero": false}, "axis": null},
       "y": {"field": "v", "type": "quantitative", "scale": {"domain": [0.7, 1.3], "nice": false, "zero": false}, "axis": null},
       "color": {"field": "s", "type": "nominal",
        "scale": {"domain": ["Standard FLT Efficiency", "Uniform Efficiency"], "range": ["#f03c2a", "#0a57f5"]},
        "legend": {"zindex": 2, "orient": "top-right", "offset": 0, "title": null, "padding": 6.7, "symbolOffset": 24, "labelOffset": 27, "rowPadding": 11.8, "symbolSize": 85, "labelFontSize": 23.2, "labelLimit": 500, "strokeColor": "black", "fillColor": "#f0ffff"}},
       "shape": {"field": "s", "type": "nominal",
        "scale": {"domain": ["Standard FLT Efficiency", "Uniform Efficiency"], "range": ["circle", "square"]},
        "legend": {"zindex": 2, "orient": "top-right", "offset": 0, "title": null, "padding": 6.7, "symbolOffset": 24, "labelOffset": 27, "rowPadding": 11.8, "symbolSize": 85, "labelFontSize": 23.2, "labelLimit": 500, "strokeColor": "black", "fillColor": "#f0ffff"}}}}
    ]
   },
   {
    "width": 423, "height": 406,
    "title": {"text": "(d)", "orient": "bottom", "offset": 8, "anchor": "middle", "frame": "bounds"},
    "resolve": {"axis": {"x": "independent", "y": "independent"}},
    "layer": [
     {"data": {"name": "bg"}, "mark": {"type": "rect", "color": "#f0ffff"},
      "encoding": {
       "x": {"datum": -0.4692, "type": "quantitative", "scale": {"domain": [-0.375, 0.125], "nice": false, "zero": false}, "axis": null},
       "x2": {"datum": 0.1535},
       "y": {"datum": 0.5868, "type": "quantitative", "scale": {"domain": [0.7, 1.3], "nice": false, "zero": false}, "axis": null},
       "y2": {"datum": 1.337}}},
     {"data": {"name": "pd"}, "mark": {"type": "rule", "color": "black", "strokeWidth": 1.6},
      "encoding": {
       "x": {"field": "x0", "type": "quantitative", "scale": {"domain": [-0.375, 0.125], "nice": false, "zero": false},
        "axis": {"zindex": 1, "orient": "bottom", "values": [-0.36,-0.34,-0.32,-0.3,-0.28,-0.26,-0.24,-0.22,-0.2,-0.18,-0.16,-0.14,-0.12,-0.1,-0.08,-0.06,-0.04,-0.02,0,0.02,0.04,0.06,0.08,0.1,0.12],
         "tickSize": {"condition": {"test": "abs(datum.value*10-round(datum.value*10))<0.000001", "value": -12}, "value": -6},
         "labelExpr": "abs(datum.value*10-round(datum.value*10))<0.000001 ? (abs(datum.value)<0.01 ? '-0' : (datum.value<0 ? '-'+format(-datum.value,'.1f') : format(datum.value,'.1f'))) : ''",
         "labelPadding": 24, "title": "xF", "titleAnchor": "end", "titlePadding": -5}},
       "x2": {"field": "x1"},
       "y": {"field": "v", "type": "quantitative", "scale": {"domain": [0.7, 1.3], "nice": false, "zero": false},
        "axis": {"zindex": 1, "orient": "left", "values": [0.75,0.8,0.85,0.9,0.95,1,1.05,1.1,1.15,1.2,1.25],
         "tickSize": {"condition": {"test": "abs(datum.value*5-round(datum.value*5))<0.000001", "value": -12}, "value": -6},
         "labelExpr": "abs(datum.value*5-round(datum.value*5))<0.000001 ? format(datum.value,'~g') : ''",
         "labelPadding": 21.7, "title": "MPRE efficiency ratio", "titleAnchor": "end", "titlePadding": 8.3}}}},
     {"data": {"name": "pd"}, "mark": {"type": "rule", "color": "black", "strokeWidth": 1.6},
      "encoding": {
       "x": {"field": "x", "type": "quantitative", "scale": {"domain": [-0.375, 0.125], "nice": false, "zero": false},
        "axis": {"zindex": 1, "orient": "top", "values": [-0.36,-0.34,-0.32,-0.3,-0.28,-0.26,-0.24,-0.22,-0.2,-0.18,-0.16,-0.14,-0.12,-0.1,-0.08,-0.06,-0.04,-0.02,0,0.02,0.04,0.06,0.08,0.1,0.12],
         "tickSize": {"condition": {"test": "abs(datum.value*10-round(datum.value*10))<0.000001", "value": -12}, "value": -6},
         "labels": false, "title": null}},
       "y": {"field": "lo", "type": "quantitative", "scale": {"domain": [0.7, 1.3], "nice": false, "zero": false},
        "axis": {"zindex": 1, "orient": "right", "values": [0.75,0.8,0.85,0.9,0.95,1,1.05,1.1,1.15,1.2,1.25],
         "tickSize": {"condition": {"test": "abs(datum.value*5-round(datum.value*5))<0.000001", "value": -12}, "value": -6},
         "labels": false, "title": null}},
       "y2": {"field": "hi"}}},
     {"data": {"name": "pd"}, "mark": {"type": "point", "filled": true, "size": 85, "opacity": 1},
      "encoding": {
       "x": {"field": "x", "type": "quantitative", "scale": {"domain": [-0.375, 0.125], "nice": false, "zero": false}, "axis": null},
       "y": {"field": "v", "type": "quantitative", "scale": {"domain": [0.7, 1.3], "nice": false, "zero": false}, "axis": null},
       "color": {"field": "s", "type": "nominal",
        "scale": {"domain": ["Standard Muon Efficiencies", "Swapped Muon Efficiencies"], "range": ["#f03c2a", "#0a57f5"]},
        "legend": {"zindex": 2, "orient": "top-right", "offset": 0, "title": null, "padding": 7, "symbolOffset": 35.3, "labelOffset": 34.1, "rowPadding": 13, "symbolSize": 85, "labelFontSize": 23.2, "labelLimit": 500, "strokeColor": "black", "fillColor": "#f0ffff"}},
       "shape": {"field": "s", "type": "nominal",
        "scale": {"domain": ["Standard Muon Efficiencies", "Swapped Muon Efficiencies"], "range": ["circle", "square"]},
        "legend": {"zindex": 2, "orient": "top-right", "offset": 0, "title": null, "padding": 7, "symbolOffset": 35.3, "labelOffset": 34.1, "rowPadding": 13, "symbolSize": 85, "labelFontSize": 23.2, "labelLimit": 500, "strokeColor": "black", "fillColor": "#f0ffff"}}}}
    ]
   }
  ]
 },
 {
  "spacing": 40,
  "resolve": {"scale": {"color": "independent", "shape": "independent"}, "legend": {"color": "independent", "shape": "independent"}},
  "hconcat": [
   {
    "width": 343.5, "height": 406,
    "title": {"text": "(e)", "orient": "bottom", "offset": 8, "anchor": "middle", "frame": "bounds"},
    "resolve": {"axis": {"x": "independent", "y": "independent"}},
    "layer": [
     {"data": {"name": "bg"}, "mark": {"type": "rect", "color": "#f0ffff"},
      "encoding": {
       "x": {"datum": -0.491, "type": "quantitative", "scale": {"domain": [-0.375, 0.125], "nice": false, "zero": false},
        "axis": {"zindex": 1, "orient": "top", "values": [-0.36,-0.34,-0.32,-0.3,-0.28,-0.26,-0.24,-0.22,-0.2,-0.18,-0.16,-0.14,-0.12,-0.1,-0.08,-0.06,-0.04,-0.02,0,0.02,0.04,0.06,0.08,0.1,0.12],
         "tickSize": {"condition": {"test": "abs(datum.value*10-round(datum.value*10))<0.000001", "value": -12}, "value": -6},
         "labels": false, "title": null}},
       "x2": {"datum": 0.2803},
       "y": {"datum": 0.5892, "type": "quantitative", "scale": {"domain": [0.7, 1.3], "nice": false, "zero": false},
        "axis": {"zindex": 1, "orient": "right", "values": [0.75,0.8,0.85,0.9,0.95,1,1.05,1.1,1.15,1.2,1.25],
         "tickSize": {"condition": {"test": "abs(datum.value*5-round(datum.value*5))<0.000001", "value": -12}, "value": -6},
         "labels": false, "title": null}},
       "y2": {"datum": 1.3384}}},
     {"data": {"name": "he"}, "mark": {"type": "rect"},
      "encoding": {
       "x": {"field": "x0", "type": "quantitative", "scale": {"domain": [-0.375, 0.125], "nice": false, "zero": false},
        "axis": {"zindex": 1, "orient": "bottom", "values": [-0.36,-0.34,-0.32,-0.3,-0.28,-0.26,-0.24,-0.22,-0.2,-0.18,-0.16,-0.14,-0.12,-0.1,-0.08,-0.06,-0.04,-0.02,0,0.02,0.04,0.06,0.08,0.1,0.12],
         "tickSize": {"condition": {"test": "abs(datum.value*10-round(datum.value*10))<0.000001", "value": -12}, "value": -6},
         "labelExpr": "abs(datum.value*10-round(datum.value*10))<0.000001 ? (abs(datum.value)<0.01 ? '-0' : (datum.value<0 ? '-'+format(-datum.value,'.1f') : format(datum.value,'.1f'))) : ''",
         "labelPadding": 24, "title": "xF", "titleAnchor": "end", "titlePadding": -5}},
       "x2": {"field": "x1"},
       "y": {"field": "y0", "type": "quantitative", "scale": {"domain": [0.7, 1.3], "nice": false, "zero": false},
        "axis": {"zindex": 1, "orient": "left", "values": [0.75,0.8,0.85,0.9,0.95,1,1.05,1.1,1.15,1.2,1.25],
         "tickSize": {"condition": {"test": "abs(datum.value*5-round(datum.value*5))<0.000001", "value": -12}, "value": -6},
         "labelExpr": "abs(datum.value*5-round(datum.value*5))<0.000001 ? format(datum.value,'~g') : ''",
         "labelPadding": 21.7, "title": "SLT efficiency ratio", "titleAnchor": "end", "titlePadding": 8.3}},
       "y2": {"field": "y1"},
       "color": {"field": "n", "type": "quantitative",
        "scale": {"type": "linear", "domain": [0, 2516, 5032, 7400, 10064, 12580, 14800], "range": ["#e2f6fc", "#c8d8f6", "#a4b0c8", "#7e889e", "#505562", "#2a2c34", "#000000"], "interpolate": "rgb"},
        "legend": {"type": "gradient", "orient": "right", "offset": 2, "direction": "vertical", "gradientLength": 406, "gradientThickness": 26.6, "gradientStrokeWidth": 0,
         "values": [0, 5000, 10000], "format": "d", "labelFontStyle": "italic", "labelFontSize": 27, "labelOffset": 8, "labelLimit": 200,
         "title": "entries", "titleOrient": "right", "titleAngle": 90, "titleAnchor": "end", "titleBaseline": "bottom", "titlePadding": -20, "titleFontSize": 28, "padding": 0}}}}
    ]
   },
   {
    "width": 343.5, "height": 406,
    "title": {"text": "(f)", "orient": "bottom", "offset": 8, "anchor": "middle", "frame": "bounds"},
    "resolve": {"axis": {"x": "independent", "y": "independent"}},
    "layer": [
     {"data": {"name": "bg"}, "mark": {"type": "rect", "color": "#f0ffff"},
      "encoding": {
       "x": {"datum": -1.17, "type": "quantitative", "scale": {"domain": [0, 5], "nice": false, "zero": false},
        "axis": {"zindex": 1, "orient": "top", "values": [0,0.2,0.4,0.6,0.8,1,1.2,1.4,1.6,1.8,2,2.2,2.4,2.6,2.8,3,3.2,3.4,3.6,3.8,4,4.2,4.4,4.6,4.8,5],
         "tickSize": {"condition": {"test": "abs(datum.value-round(datum.value))<0.000001", "value": -12}, "value": -6},
         "labels": false, "title": null}},
       "x2": {"datum": 6.556},
       "y": {"datum": 0.5892, "type": "quantitative", "scale": {"domain": [0.7, 1.3], "nice": false, "zero": false},
        "axis": {"zindex": 1, "orient": "right", "values": [0.75,0.8,0.85,0.9,0.95,1,1.05,1.1,1.15,1.2,1.25],
         "tickSize": {"condition": {"test": "abs(datum.value*5-round(datum.value*5))<0.000001", "value": -12}, "value": -6},
         "labels": false, "title": null}},
       "y2": {"datum": 1.3384}}},
     {"data": {"name": "hf"}, "mark": {"type": "rect"},
      "encoding": {
       "x": {"field": "x0", "type": "quantitative", "scale": {"domain": [0, 5], "nice": false, "zero": false},
        "axis": {"zindex": 1, "orient": "bottom", "values": [0,0.2,0.4,0.6,0.8,1,1.2,1.4,1.6,1.8,2,2.2,2.4,2.6,2.8,3,3.2,3.4,3.6,3.8,4,4.2,4.4,4.6,4.8,5],
         "tickSize": {"condition": {"test": "abs(datum.value-round(datum.value))<0.000001", "value": -12}, "value": -6},
         "labelExpr": "abs(datum.value-round(datum.value))<0.000001 ? format(datum.value,'d') : ''",
         "labelPadding": 24, "title": "pT [GeV/c]", "titleAnchor": "end", "titlePadding": -4}},
       "x2": {"field": "x1"},
       "y": {"field": "y0", "type": "quantitative", "scale": {"domain": [0.7, 1.3], "nice": false, "zero": false},
        "axis": {"zindex": 1, "orient": "left", "values": [0.75,0.8,0.85,0.9,0.95,1,1.05,1.1,1.15,1.2,1.25],
         "tickSize": {"condition": {"test": "abs(datum.value*5-round(datum.value*5))<0.000001", "value": -12}, "value": -6},
         "labelExpr": "abs(datum.value*5-round(datum.value*5))<0.000001 ? format(datum.value,'~g') : ''",
         "labelPadding": 21.7, "title": "SLT efficiency ratio", "titleAnchor": "end", "titlePadding": 8.3}},
       "y2": {"field": "y1"},
       "color": {"field": "n", "type": "quantitative",
        "scale": {"type": "linear", "domain": [0, 2287, 4573, 6725, 9146, 11433, 13450], "range": ["#e2f6fc", "#c8d8f6", "#a4b0c8", "#7e889e", "#505562", "#2a2c34", "#000000"], "interpolate": "rgb"},
        "legend": {"type": "gradient", "orient": "right", "offset": 2, "direction": "vertical", "gradientLength": 406, "gradientThickness": 26.6, "gradientStrokeWidth": 0,
         "values": [0, 5000, 10000], "format": "d", "labelFontStyle": "italic", "labelFontSize": 27, "labelOffset": 8, "labelLimit": 200,
         "title": "entries", "titleOrient": "right", "titleAngle": 90, "titleAnchor": "end", "titleBaseline": "bottom", "titlePadding": -24, "titleFontSize": 27, "padding": 0}}}}
    ]
   }
  ]
 }
]
}
